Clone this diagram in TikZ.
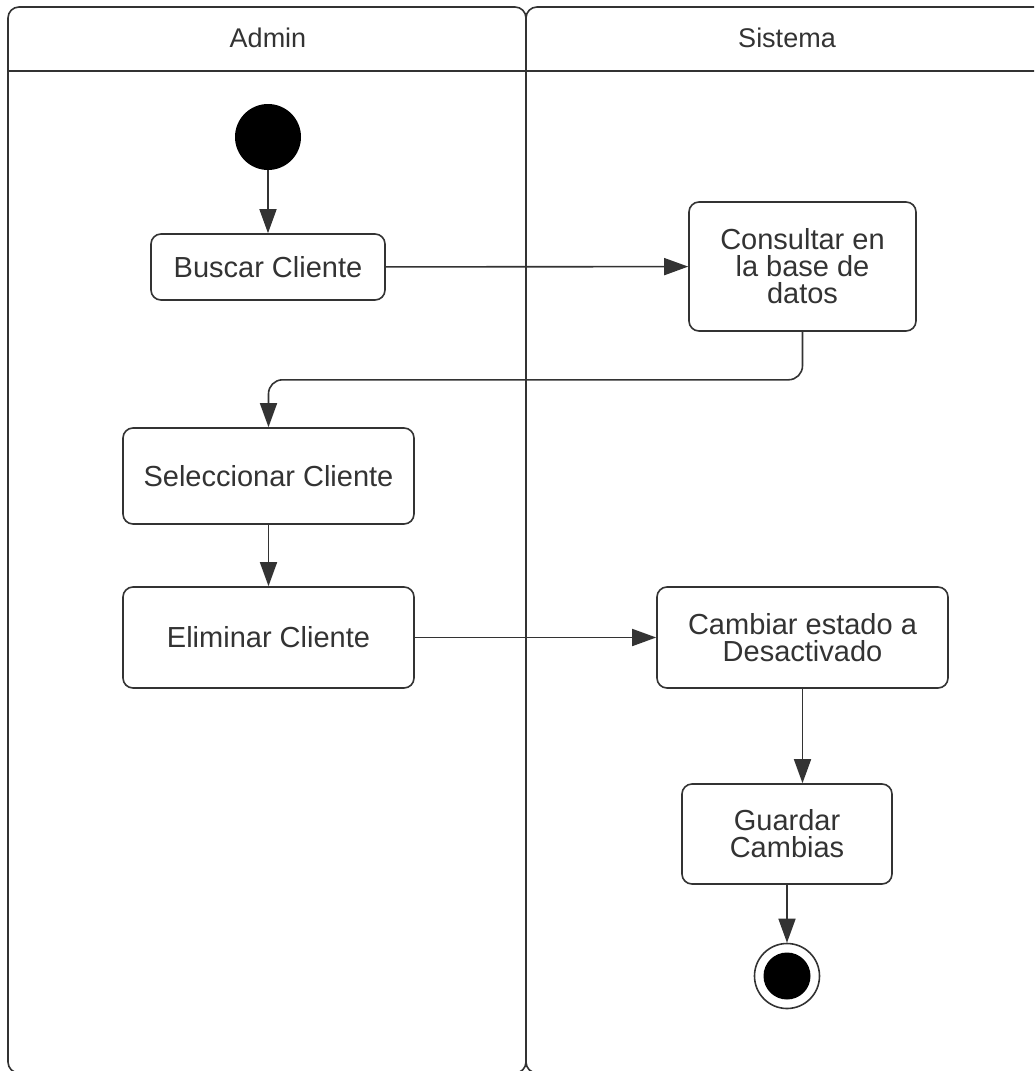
\documentclass[tikz,border=0pt]{standalone}
\usepackage{fontspec}
\setmainfont{Liberation Sans}
\usetikzlibrary{arrows.meta}
\definecolor{ink}{HTML}{333333}
\begin{document}
\begin{tikzpicture}[x=1pt,y=-1pt,
  lane/.style={draw=ink, line width=1.6pt, rounded corners=11pt},
  act/.style={draw=ink, line width=1.6pt, rounded corners=10pt, fill=white,
    text=ink, align=center, inner sep=0pt,
    font=\fontsize{29}{27}\selectfont},
  lanetitle/.style={text=ink, font=\fontsize{27}{27}\selectfont},
  flow/.style={draw=ink, line width=1.6pt,
    -{Triangle[length=24pt,width=17pt]}}]
\useasboundingbox (0,0) rectangle (1034,1071);
\clip (0,0) rectangle (1034,1071);
\fill[white] (0,0) rectangle (1034,1071);

% swimlanes
\draw[lane] (8,7) rectangle (526,1073);
\draw[lane] (526,7) rectangle (1060,1073);
\draw[draw=ink, line width=1.6pt] (8,71) -- (1060,71);
\node[lanetitle] (admin) at (268,38) {Admin};
\node[lanetitle] (sistema) at (787,38) {Sistema};

% initial node
\node[circle, fill=black, minimum size=66pt, inner sep=0pt] (start) at (268,137) {};

% activities
\node[act, minimum width=234pt, minimum height=66pt] (buscar) at (268,267) {Buscar Cliente};
\node[act, minimum width=227pt, minimum height=129pt] (consultar) at (802.5,266.5) {Consultar en\\la base de\\datos};
\node[act, minimum width=291pt, minimum height=96pt] (selec) at (268.5,476) {Seleccionar Cliente};
\node[act, minimum width=291pt, minimum height=101pt] (elim) at (268.5,637.5) {Eliminar Cliente};
\node[act, minimum width=291pt, minimum height=101pt] (cambiar) at (802.5,637.5) {Cambiar estado a\\Desactivado};
\node[act, minimum width=210pt, minimum height=100pt] (guardar) at (787,834) {Guardar\\Cambias};

% final node
\node[circle, draw=ink, line width=1.6pt, fill=white, minimum size=65pt, inner sep=0pt] (fin) at (787,976) {};
\node[circle, fill=black, minimum size=47pt, inner sep=0pt] (finin) at (fin.center) {};

% control flow
\draw[flow] (start) -- (buscar);
\draw[flow] (buscar) -- (consultar);
\draw[flow, rounded corners=14pt] (consultar.south) -- ++(0,48) -| (selec.north);
\draw[flow] (selec) -- (elim);
\draw[flow] (elim) -- (cambiar);
\draw[flow] (cambiar.south) -- (cambiar.south |- guardar.north);
\draw[flow] (guardar) -- (fin);
\end{tikzpicture}
\end{document}
